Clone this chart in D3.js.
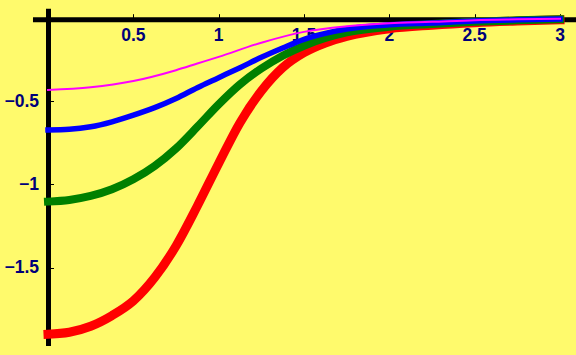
<!DOCTYPE html>
<html>
<head>
<meta charset="utf-8">
<script src="https://cdn.jsdelivr.net/npm/d3@7"></script>
<style>
  html, body { margin: 0; padding: 0; background: #FFFA6C; }
  svg { display: block; }
</style>
</head>
<body>
<svg id="chart" width="576" height="355"></svg>
<script>
// ---- data ----
const xsRed   = [0, 0.125, 0.25, 0.375, 0.5, 0.625, 0.75, 0.875, 1.0, 1.125, 1.25, 1.375, 1.5, 1.625, 1.75, 2.0, 2.25, 2.5, 2.75, 3.0];
const redVals = [-1.90, -1.888, -1.852, -1.788, -1.70, -1.56, -1.37, -1.13, -0.875, -0.63, -0.44, -0.30, -0.21, -0.152, -0.112, -0.066, -0.045, -0.03, -0.02, -0.013];

const xsGreen   = [0, 0.125, 0.25, 0.375, 0.5, 0.625, 0.75, 0.875, 1.0, 1.125, 1.25, 1.375, 1.5, 1.625, 1.75, 2.0, 2.25, 2.5, 2.75, 3.0];
const greenVals = [-1.104, -1.094, -1.07, -1.03, -0.97, -0.89, -0.785, -0.655, -0.52, -0.40, -0.305, -0.228, -0.168, -0.122, -0.088, -0.054, -0.038, -0.025, -0.016, -0.01];

const xsBlue   = [0, 0.125, 0.25, 0.375, 0.5, 0.625, 0.75, 0.875, 1.0, 1.125, 1.25, 1.375, 1.5, 1.625, 1.75, 2.0, 2.25, 2.5, 2.75, 3.0];
const blueVals = [-0.674, -0.670, -0.655, -0.625, -0.585, -0.54, -0.485, -0.42, -0.36, -0.30, -0.238, -0.182, -0.13, -0.094, -0.068, -0.043, -0.032, -0.02, -0.013, -0.008];

const xsMagenta   = [0, 0.25, 0.5, 0.75, 0.875, 1.0, 1.25, 1.5, 1.75, 2.0, 2.25, 2.5, 2.75, 3.0];
const magentaVals = [-0.434, -0.418, -0.38, -0.315, -0.275, -0.235, -0.15, -0.085, -0.052, -0.034, -0.025, -0.015, -0.01, -0.006];

const xTicks = [0.5, 1, 1.5, 2, 2.5, 3];
const xTickLabels = ["0.5", "1", "1.5", "2", "2.5", "3"];
const yTicks = [-0.5, -1, -1.5];
const yTickLabels = ["\u22120.5", "\u22121", "\u22121.5"];

const seriesNames  = ["red", "green", "blue", "magenta"];
const seriesColors = ["#FF0000", "#008000", "#0000FF", "#FF00FF"];
const seriesWidths = [9, 8, 5.5, 2];

// ---- scales ----
const x = d3.scaleLinear().domain([0, 3]).range([48, 560]);
const y = d3.scaleLinear().domain([0, -1.5]).range([17.7, 267.6]);

const svg = d3.select("#chart");
svg.append("rect").attr("width", 576).attr("height", 355).attr("fill", "#FFFA6C");

const labelColor = "#00007A";
const font = "'Liberation Sans', Arial, Helvetica, sans-serif";

// x tick labels
svg.append("g").selectAll("text").data(xTicks).join("text")
  .attr("x", d => x(d))
  .attr("y", 41)
  .attr("text-anchor", "middle")
  .attr("font-family", font)
  .attr("font-weight", "bold")
  .attr("font-size", 17.5)
  .attr("fill", labelColor)
  .text((d, i) => xTickLabels[i]);

// y tick labels
svg.append("g").selectAll("text").data(yTicks).join("text")
  .attr("x", 39)
  .attr("y", d => y(d) + 5.8)
  .attr("text-anchor", "end")
  .attr("font-family", font)
  .attr("font-weight", "bold")
  .attr("font-size", 17.5)
  .attr("fill", labelColor)
  .text((d, i) => yTickLabels[i]);

// axes lines
svg.append("line")
  .attr("x1", x(-0.088)).attr("x2", 576)
  .attr("y1", y(0) + 2).attr("y2", y(0) + 2)
  .attr("stroke", "#000").attr("stroke-width", 5);
svg.append("line")
  .attr("x1", x(0) + 0.5).attr("x2", x(0) + 0.5)
  .attr("y1", y(0.053)).attr("y2", y(-1.97))
  .attr("stroke", "#000").attr("stroke-width", 5);

// tick marks
svg.append("g").selectAll("line").data(xTicks).join("line")
  .attr("x1", d => Math.round(x(d)) + 0.5).attr("x2", d => Math.round(x(d)) + 0.5)
  .attr("y1", y(0) - 3.5).attr("y2", y(0) + 1)
  .attr("stroke", "#000").attr("stroke-width", 1);
svg.append("g").selectAll("line").data(yTicks).join("line")
  .attr("x1", x(0) + 2).attr("x2", x(0) + 6)
  .attr("y1", d => Math.round(y(d)) + 0.5).attr("y2", d => Math.round(y(d)) + 0.5)
  .attr("stroke", "#000").attr("stroke-width", 1);

// curves
const allX = [xsRed, xsGreen, xsBlue, xsMagenta];
const allY = [redVals, greenVals, blueVals, magentaVals];
const line = d3.line()
  .x(d => x(d[0]))
  .y(d => y(d[1]))
  .curve(d3.curveMonotoneX);

seriesNames.forEach((name, i) => {
  const pts = allX[i].map((xv, j) => [xv, allY[i][j]]);
  svg.append("path")
    .datum(pts)
    .attr("class", "series-" + name)
    .attr("d", line)
    .attr("fill", "none")
    .attr("stroke", seriesColors[i])
    .attr("stroke-width", seriesWidths[i])
    .attr("stroke-linecap", "square")
    .attr("stroke-linejoin", "round");
});
</script>
</body>
</html>
